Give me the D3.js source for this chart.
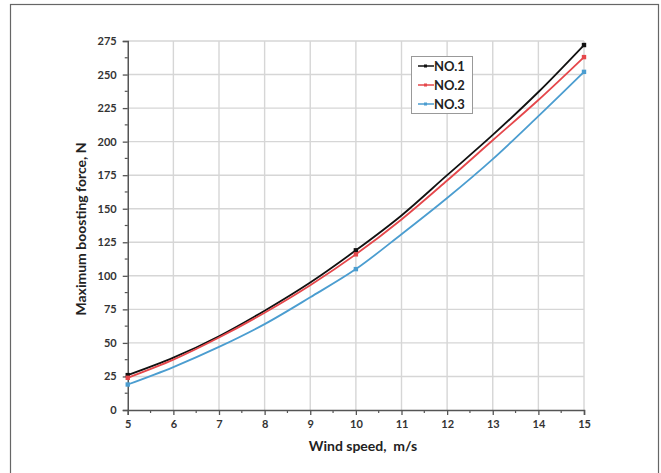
<!DOCTYPE html>
<html><head><meta charset="utf-8">
<script src="https://cdn.jsdelivr.net/npm/d3@7/dist/d3.min.js"></script>
<style>body{margin:0;background:#fff}svg{display:block}</style>
</head><body>
<svg id="c" width="661" height="473"></svg>
<script>
const windSpeed = [5, 6, 7, 8, 9, 10, 11, 12, 13, 14, 15];
const no1 = [26, 39, 55, 74, 95, 119, 145, 175, 205, 237, 272];
const no2 = [24, 37.5, 54, 72.5, 93, 116, 142, 171, 201, 231, 263];
const no3 = [19, 32, 47, 64, 84, 105, 131, 158, 187, 219, 252];
const markerSpeeds = [5, 10, 15];
const seriesNames = ["NO.1", "NO.2", "NO.3"];
const seriesColors = ["#111111", "#e5474b", "#4b9dd0"];
const yTicks = [0, 25, 50, 75, 100, 125, 150, 175, 200, 225, 250, 275];
const xTicks = [5, 6, 7, 8, 9, 10, 11, 12, 13, 14, 15];

const svg = d3.select("#c");
const font = "Lato, 'Open Sans', sans-serif";
// outer frame
svg.append("rect").attr("x", 10.5).attr("y", 4.5).attr("width", 648).attr("height", 475)
  .attr("fill", "none").attr("stroke", "#666").attr("stroke-width", 1.2);

const L = 127.75, R = 584, T = 41, B = 410;
const x = d3.scaleLinear().domain([5, 15]).range([L, R]);
const y = d3.scaleLinear().domain([0, 275]).range([B, T]);

const g = svg.append("g");
// gridlines
g.selectAll(".hg").data(yTicks.slice(1)).join("line")
  .attr("x1", L).attr("x2", R).attr("y1", d => y(d)).attr("y2", d => y(d))
  .attr("stroke", "#d6d6d6").attr("stroke-width", 1.4);
g.selectAll(".vg").data(xTicks.slice(1)).join("line")
  .attr("x1", d => x(d)).attr("x2", d => x(d)).attr("y1", T).attr("y2", B)
  .attr("stroke", "#d6d6d6").attr("stroke-width", 1.4);

// axes
const yAxis = d3.axisLeft(y).tickValues(yTicks).tickSize(5).tickPadding(6);
const xAxis = d3.axisBottom(x).tickValues(xTicks).tickSize(5).tickPadding(5);
const ya = svg.append("g").attr("transform", `translate(${L},0)`).call(yAxis);
const xa = svg.append("g").attr("transform", `translate(0,${B})`).call(xAxis);
[ya, xa].forEach(a => {
  a.select(".domain").attr("stroke", "#555").attr("stroke-width", 1.5);
  a.selectAll(".tick line").attr("stroke", "#555").attr("stroke-width", 1.3);
  a.selectAll(".tick text").attr("fill", "#333").style("font-family", font)
    .style("font-size", "11px").style("font-weight", "bold");
});
// minor ticks
const yMinor = d3.range(12.5, 275, 25);
const xMinor = d3.range(5.5, 15, 1);
svg.append("g").selectAll("line").data(yMinor).join("line")
  .attr("x1", L - 3).attr("x2", L).attr("y1", d => y(d)).attr("y2", d => y(d))
  .attr("stroke", "#555").attr("stroke-width", 1.2);
svg.append("g").selectAll("line").data(xMinor).join("line")
  .attr("x1", d => x(d)).attr("x2", d => x(d)).attr("y1", B).attr("y2", B + 3)
  .attr("stroke", "#555").attr("stroke-width", 1.2);

// lines
const data = [no1, no2, no3];
const line = d3.line().x(d => x(d[0])).y(d => y(d[1])).curve(d3.curveCatmullRom);
data.forEach((vals, i) => {
  const pts = windSpeed.map((s, j) => [s, vals[j]]);
  svg.append("path").datum(pts).attr("d", line).attr("fill", "none")
    .attr("stroke", seriesColors[i]).attr("stroke-width", 1.8);
  const mk = pts.filter(p => markerSpeeds.includes(p[0]));
  svg.append("g").selectAll("rect").data(mk).join("rect")
    .attr("x", d => x(d[0]) - 2.2).attr("y", d => y(d[1]) - 2.2)
    .attr("width", 4.4).attr("height", 4.4).attr("fill", seriesColors[i]);
});

// legend
const lg = svg.append("g");
lg.append("rect").attr("x", 411.5).attr("y", 56.5).attr("width", 61).attr("height", 57)
  .attr("fill", "#fff").attr("stroke", "#999").attr("stroke-width", 1);
seriesNames.forEach((n, i) => {
  const yy = 66 + i * 19;
  lg.append("line").attr("x1", 418).attr("x2", 434).attr("y1", yy).attr("y2", yy)
    .attr("stroke", seriesColors[i]).attr("stroke-width", 1.5);
  lg.append("rect").attr("x", 424).attr("y", yy - 1.5).attr("width", 3).attr("height", 3)
    .attr("fill", seriesColors[i]);
  lg.append("text").attr("x", 434).attr("y", yy + 4.5).text(n)
    .attr("fill", "#222").style("font-family", font).style("font-size", "13px").style("font-weight", "bold");
});

// titles
svg.append("text").attr("transform", `translate(86,229) rotate(-90)`).attr("text-anchor", "middle")
  .text("Maximum boosting force, N").attr("fill", "#222")
  .style("font-family", font).style("font-size", "14px").style("font-weight", "bold");
svg.append("text").attr("x", 363).attr("y", 451).attr("text-anchor", "middle")
  .text("Wind speed,  m/s").attr("fill", "#222").attr("xml:space", "preserve")
  .style("white-space", "pre")
  .style("font-family", font).style("font-size", "14px").style("font-weight", "bold");
</script>
</body></html>
